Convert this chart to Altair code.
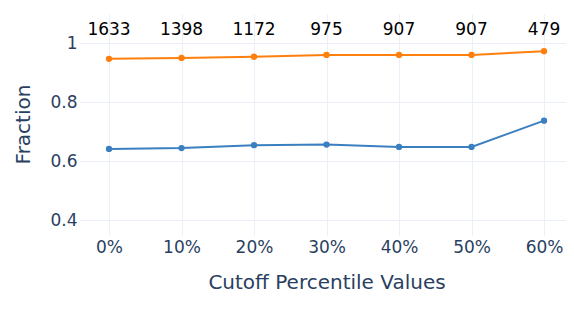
import altair as alt
import pandas as pd

cutoffs = [0, 10, 20, 30, 40, 50, 60]
series_low = [0.642, 0.645, 0.655, 0.657, 0.649, 0.649, 0.738]
series_high = [0.948, 0.951, 0.955, 0.961, 0.961, 0.961, 0.974]
counts = [1633, 1398, 1172, 975, 907, 907, 479]
y_ticks = [0.4, 0.6, 0.8, 1.0]

rows = []
for c, v in zip(cutoffs, series_low):
    rows.append({"cutoff": c, "fraction": v, "series": "low"})
for c, v in zip(cutoffs, series_high):
    rows.append({"cutoff": c, "fraction": v, "series": "high"})
df = pd.DataFrame(rows)
cnt = pd.DataFrame({"cutoff": cutoffs, "count": counts})

FONT = "DejaVu Sans"
AXC = "#2a3f5f"
GRID = "#ebf0f8"

xscale = alt.Scale(domain=[-4, 63.03], nice=False, zero=False)
yscale = alt.Scale(domain=[0.35, 1.1], nice=False, zero=False)

xaxis = alt.Axis(
    title="Cutoff Percentile Values", values=cutoffs,
    labelExpr="datum.value + '%'", grid=True, gridColor=GRID, domain=False,
    ticks=False, labelPadding=4, labelFontSize=17, labelColor=AXC, labelFont=FONT,
    titleFontSize=20, titleColor=AXC, titleFont=FONT, titleFontWeight="normal",
    titleX=246.5, titleY=47, titleBaseline="middle", titleAlign="center",
)
yaxis = alt.Axis(
    title="Fraction", values=y_ticks, format="~g", grid=True, gridColor=GRID,
    domain=False, ticks=False, labelPadding=3, labelFontSize=17, labelColor=AXC,
    labelFont=FONT, titleFontSize=20, titleColor=AXC, titleFont=FONT,
    titleFontWeight="normal", titleAngle=-90, titleX=-57, titleY=110,
    titleBaseline="middle", titleAlign="center",
)

color = alt.Color("series:N", scale=alt.Scale(domain=["low", "high"], range=["#3a7fbf", "#ff7f0e"]), legend=None)

base = alt.Chart(df).encode(
    x=alt.X("cutoff:Q", scale=xscale, axis=xaxis),
    y=alt.Y("fraction:Q", scale=yscale, axis=yaxis),
    color=color,
)
lines = base.mark_line(strokeWidth=2)
points = base.mark_circle(size=40, opacity=1)

labels = alt.Chart(cnt).mark_text(fontSize=17, font=FONT, color="black", baseline="middle").encode(
    x=alt.X("cutoff:Q", scale=xscale),
    y=alt.datum(1.045),
    text="count:Q",
)

chart = alt.layer(lines, points, labels).properties(
    width=486, height=221,
    autosize=alt.AutoSizeParams(type="none"),
    padding={"left": 72, "top": 6, "right": 0, "bottom": 70},
).configure(background="white").configure_view(stroke=None, strokeWidth=0)

chart.save("out.html", embed_options={"renderer": "svg", "actions": False})
